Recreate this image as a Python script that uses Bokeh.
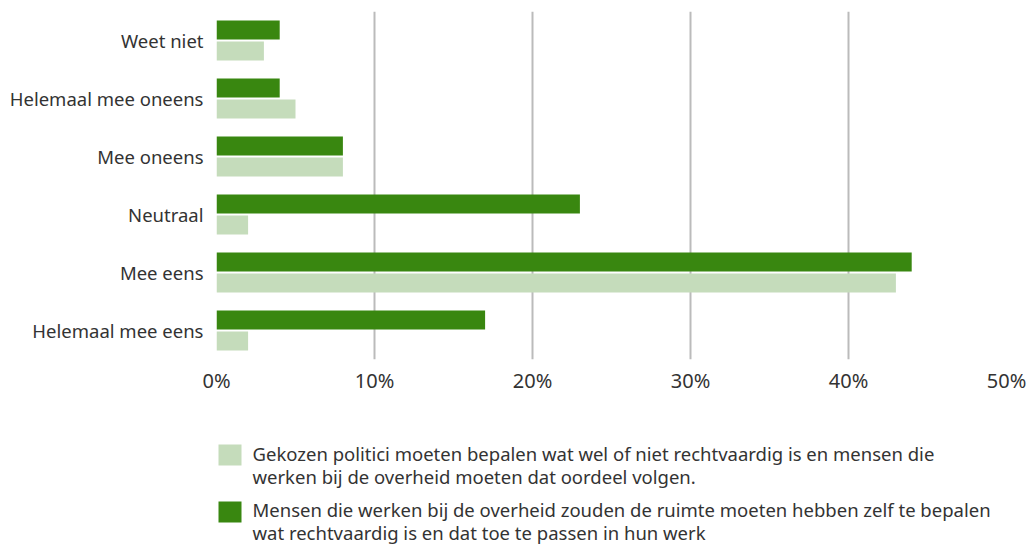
from bokeh.plotting import figure
from bokeh.models import ColumnDataSource, FactorRange, Range1d, PrintfTickFormatter, FixedTicker
from bokeh.transform import dodge
from bokeh.layouts import column
from bokeh.core.properties import value
from bokeh.embed import file_html
from bokeh.resources import INLINE

# ---- data ----
categories = ["Weet niet", "Helemaal mee oneens", "Mee oneens", "Neutraal", "Mee eens", "Helemaal mee eens"]
politici = [3, 5, 8, 2, 43, 2]      # light green
zelf = [4, 4, 8, 23, 44, 17]        # dark green
x_ticks = [0, 10, 20, 30, 40, 50]
legend_labels = [
    "Gekozen politici moeten bepalen wat wel of niet rechtvaardig is en mensen die\nwerken bij de overheid moeten dat oordeel volgen.",
    "Mensen die werken bij de overheid zouden de ruimte moeten hebben zelf te bepalen\nwat rechtvaardig is en dat toe te passen in hun werk",
]

LIGHT = "#c5dcbb"
DARK = "#398710"
TEXT = "#333333"
FONT = "Noto Sans"

src = ColumnDataSource(dict(cat=categories, politici=politici, zelf=zelf))

W = 1027
BL = 216
FW = 790
BR = W - BL - FW

p = figure(
    width=W, height=400,
    y_range=FactorRange(factors=list(reversed(categories)), range_padding=0),
    x_range=Range1d(0, 50),
    output_backend="svg", toolbar_location=None,
    min_border_left=BL, min_border_right=BR,
    min_border_top=11, min_border_bottom=41,
)
p.outline_line_color = None

p.hbar(y=dodge("cat", 0.181, range=p.y_range), right="zelf", left=0, height=0.33,
       source=src, color=DARK, line_color=None)
p.hbar(y=dodge("cat", -0.181, range=p.y_range), right="politici", left=0, height=0.33,
       source=src, color=LIGHT, line_color=None)

p.ygrid.grid_line_color = None
p.xgrid.grid_line_color = "#bbbbbb"
p.xgrid.grid_line_width = 2
p.xaxis.ticker = FixedTicker(ticks=x_ticks)
p.xaxis.formatter = PrintfTickFormatter(format="%d%%")

for ax in (p.xaxis[0], p.yaxis[0]):
    ax.axis_line_color = None
    ax.major_tick_line_color = None
    ax.minor_tick_line_color = None
    ax.major_tick_out = 0
    ax.major_tick_in = 0
    ax.minor_tick_out = 0
    ax.major_label_text_font = FONT
    ax.major_label_text_color = TEXT
p.xaxis.major_label_text_font_size = "20px"
p.xaxis.major_label_standoff = 7
p.yaxis.major_label_text_font_size = "18.5px"
p.yaxis.major_label_standoff = 13

# ---- legend figure (x in page pixels, y downward) ----
H2 = 144
lg = figure(width=W, height=H2, x_range=Range1d(BL, BL + FW), y_range=Range1d(H2, 0),
            output_backend="svg", toolbar_location=None,
            min_border_left=BL, min_border_right=BR, min_border_top=0, min_border_bottom=0)
lg.axis.visible = False
lg.grid.grid_line_color = None
lg.outline_line_color = None
lg.background_fill_color = None
lg.border_fill_color = None

sq_left = [218, 218]
sq_top = [44, 101]
lg.quad(left=sq_left, right=[x + 23 for x in sq_left],
        top=sq_top, bottom=[y + 21 for y in sq_top],
        color=[LIGHT, DARK], line_color=None)
lg.text(x=[252, 252], y=[40, 96], text=legend_labels,
        text_font=value(FONT), text_font_size="18.5px", text_color=TEXT,
        text_baseline="top", text_align="left", text_line_height=0.92)

layout = column(p, lg, spacing=0)
open("out.html", "w").write(file_html(layout, INLINE))
